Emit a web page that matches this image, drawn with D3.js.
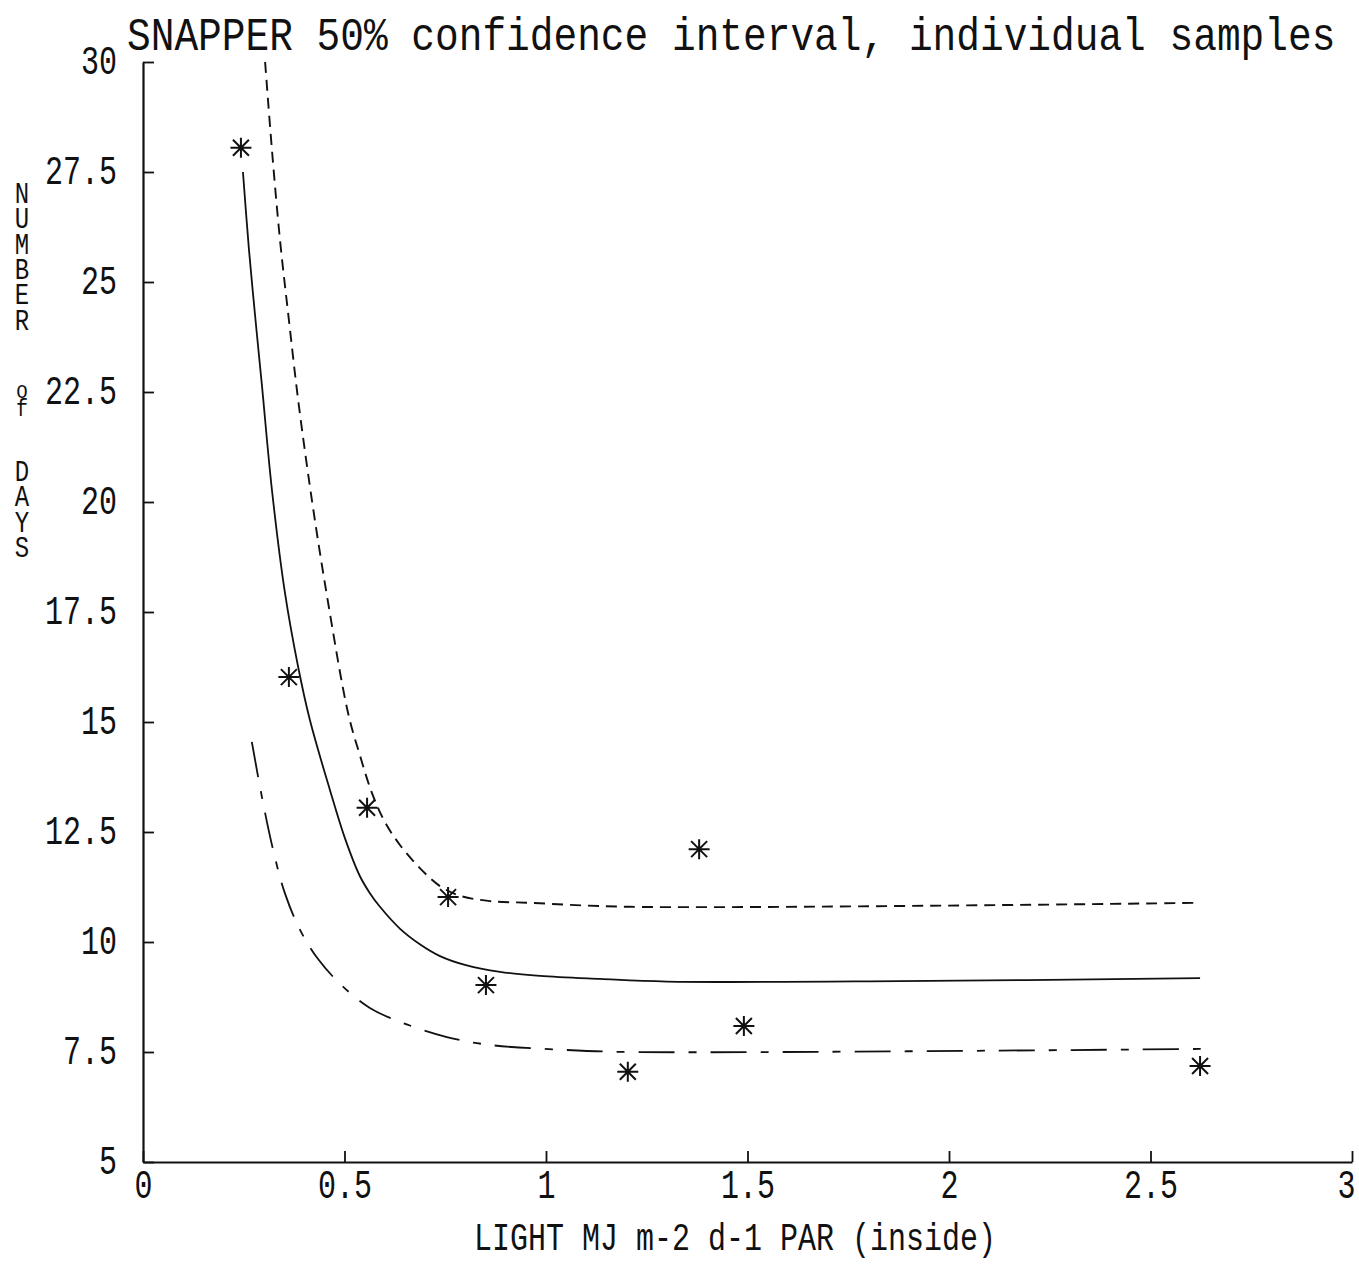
<!DOCTYPE html>
<html>
<head>
<meta charset="utf-8">
<script src="https://cdn.jsdelivr.net/npm/d3@7"></script>
<style>
  html, body { margin: 0; padding: 0; background: #fff; }
  svg { display: block; }
  text { font-family: "Liberation Mono", "DejaVu Sans Mono", monospace; fill: #111; }
  .vlabel { writing-mode: vertical-rl; text-orientation: upright; }
</style>
</head>
<body>
<svg id="chart" width="1359" height="1265"></svg>
<script>
// ---------- data ----------
const xTicks = [0, 0.5, 1, 1.5, 2, 2.5, 3];
const yTicks = [5, 7.5, 10, 12.5, 15, 17.5, 20, 22.5, 25, 27.5, 30];

// individual samples (light, days)
const sampleLight = [0.243, 0.362, 0.556, 0.757, 0.851, 1.203, 1.380, 1.491, 2.623];
const sampleDays  = [28.05, 16.02, 13.05, 11.02, 9.02, 7.05, 12.11, 8.09, 7.18];

// fitted curve (solid)
const fitLight = [0.248, 0.263, 0.278, 0.295, 0.320, 0.352, 0.385, 0.414, 0.464, 0.501, 0.538, 0.563, 0.588, 0.638, 0.687, 0.737, 0.799, 0.886, 0.985, 1.134, 1.300, 1.878, 2.623];
const fitDays  = [27.50, 25.73, 24.25, 22.66, 20.27, 17.95, 16.25, 15.05, 13.45, 12.36, 11.50, 11.11, 10.80, 10.30, 9.95, 9.68, 9.48, 9.32, 9.23, 9.16, 9.10, 9.11, 9.18];

// upper 50% confidence limit (short dashes)
const upperLight = [0.303, 0.320, 0.340, 0.362, 0.385, 0.419, 0.457, 0.509, 0.538, 0.568, 0.600, 0.638, 0.687, 0.737, 0.787, 0.861, 0.960, 1.208, 2.623];
const upperDays  = [30.0, 28.0, 25.95, 24.14, 22.32, 20.05, 17.84, 15.20, 14.25, 13.39, 12.73, 12.20, 11.68, 11.27, 11.05, 10.93, 10.89, 10.80, 10.89];

// lower 50% confidence limit (long dash - dot)
const lowerLight = [0.270, 0.295, 0.323, 0.352, 0.390, 0.432, 0.489, 0.563, 0.645, 0.754, 0.861, 1.042, 1.208, 2.628];
const lowerDays  = [14.55, 13.30, 12.09, 11.11, 10.27, 9.64, 9.05, 8.50, 8.16, 7.84, 7.66, 7.55, 7.50, 7.57];

const titleText = "SNAPPER 50% confidence interval, individual samples";
const xLabelText = "LIGHT MJ m-2 d-1 PAR (inside)";
const yLabelWords = ["NUMBER", "of", "DAYS"];

// ---------- drawing ----------
const svg = d3.select("#chart");
const x = d3.scaleLinear().domain([0, 3]).range([143, 1352]);
const y = d3.scaleLinear().domain([5, 30]).range([1162, 62]);

const SY = 1.38; // vertical stretch of the narrow plotter font

// title
svg.append("text")
  .attr("transform", `translate(127,50) scale(1,1.15)`)
  .attr("font-size", 39.5)
  .text(titleText);

// axes
const fmt = d => String(d);
const yAxis = d3.axisLeft(y).tickValues(yTicks).tickFormat(fmt)
  .tickSizeInner(-11).tickSizeOuter(0).tickPadding(26);
const xAxis = d3.axisBottom(x).tickValues(xTicks).tickFormat(fmt)
  .tickSizeInner(-11).tickSizeOuter(0).tickPadding(8);

const gy = svg.append("g").attr("transform", `translate(${x(0)},0)`).call(yAxis);
const gx = svg.append("g").attr("transform", `translate(0,${y(5)})`).call(xAxis);

[gx, gy].forEach(g => {
  g.select(".domain").attr("stroke", "#111").attr("stroke-width", 2.2);
  g.selectAll(".tick line").attr("stroke", "#111").attr("stroke-width", 1.8);
  g.selectAll(".tick text")
    .attr("font-family", "Liberation Mono, DejaVu Sans Mono, monospace")
    .attr("font-size", 30).attr("fill", "#111")
    .attr("transform", `scale(1,${SY})`);
});
gy.selectAll(".tick text").attr("dy", "0.28em");
gx.selectAll(".tick text").attr("y", 5);
gx.selectAll(".tick text").filter(d => d === 3).attr("dx", -6);

// x axis label
svg.append("text")
  .attr("transform", `translate(735,1250) scale(1,1.3)`)
  .attr("text-anchor", "middle")
  .attr("font-size", 30)
  .text(xLabelText);

// stacked vertical y label: one upright vertical text per word
const wordTops = [179, 378, 457];
yLabelWords.forEach((w, i) => {
  svg.append("g")
    .attr("transform", `translate(22,${wordTops[i]}) scale(1,1.2)`)
    .append("text")
    .attr("class", "vlabel")
    .attr("x", 0).attr("y", 0)
    .attr("font-size", w === "of" ? 20 : 24)
    .attr("letter-spacing", w === "of" ? -7 : -6)
    .text(w);
});

// curves
const line = d3.line().x(d => x(d[0])).y(d => y(d[1])).curve(d3.curveCatmullRom.alpha(0.5));
const zip = (a, b) => a.map((v, i) => [v, b[i]]);

const plot = svg.append("g").attr("fill", "none").attr("stroke", "#111");
plot.append("path").datum(zip(fitLight, fitDays))
  .attr("d", line).attr("stroke-width", 1.8);
plot.append("path").datum(zip(upperLight, upperDays))
  .attr("d", line).attr("stroke-width", 1.9).attr("stroke-dasharray", "11,7");
plot.append("path").datum(zip(lowerLight, lowerDays))
  .attr("d", line).attr("stroke-width", 1.8).attr("stroke-dasharray", "36,14,8,14");

// asterisk markers
const star = "M-10.5,0L10.5,0M0,-10L0,10M-8,-8L8,8M-8,8L8,-8";
svg.append("g").selectAll("path")
  .data(zip(sampleLight, sampleDays))
  .join("path")
  .attr("transform", d => `translate(${x(d[0])},${y(d[1])})`)
  .attr("d", star)
  .attr("fill", "none")
  .attr("stroke", "#111")
  .attr("stroke-width", 2);
</script>
</body>
</html>
